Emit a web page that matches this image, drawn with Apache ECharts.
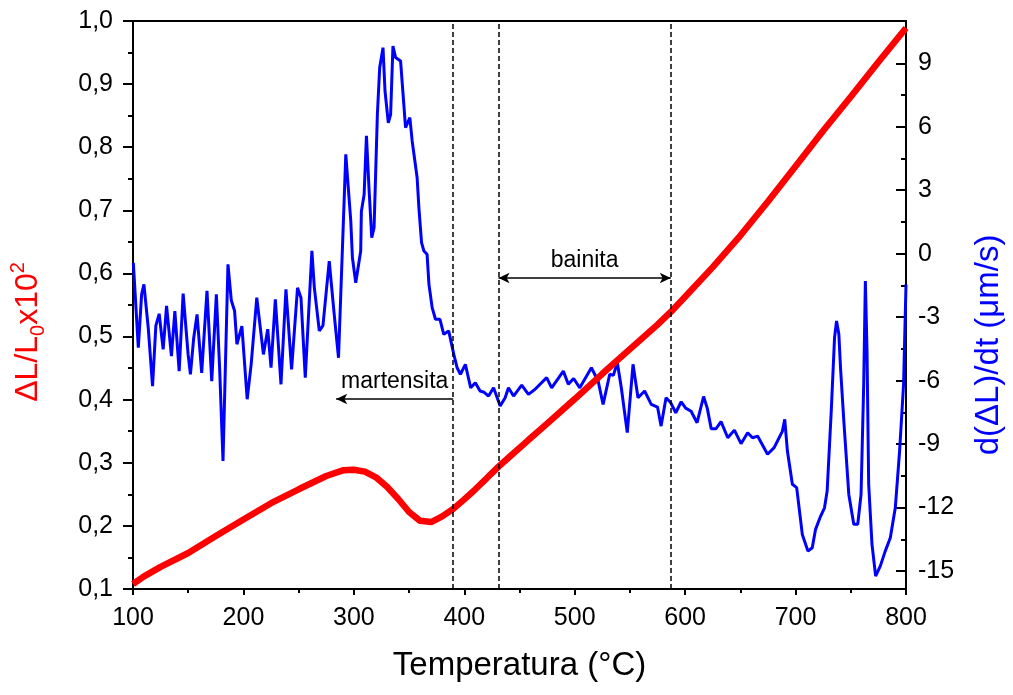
<!DOCTYPE html>
<html>
<head>
<meta charset="utf-8">
<script src="https://cdn.jsdelivr.net/npm/echarts@6/dist/echarts.min.js"></script>
<style>
  html, body { margin: 0; padding: 0; background: #fff; }
  #chart { width: 1013px; height: 695px; }
</style>
</head>
<body>
<div id="chart"></div>
<script>
// dilatação (ΔL/L0 x10^2), eixo esquerdo
const redT = [100, 110, 125, 150, 175, 200, 225, 250, 275, 290, 300, 310, 320, 330, 340, 350, 360, 370, 380, 390,
  400, 410, 420, 431, 440, 458, 475, 500, 525, 539, 550, 575, 587, 600, 625, 650, 675, 700, 725, 750, 775, 800];
const redV = [0.108, 0.120, 0.135, 0.157, 0.184, 0.210, 0.236, 0.258, 0.279, 0.288, 0.289, 0.286, 0.277, 0.262, 0.243,
  0.222, 0.208, 0.206, 0.215, 0.227, 0.242, 0.258, 0.275, 0.294, 0.308, 0.336, 0.362, 0.401, 0.441, 0.463, 0.480,
  0.519, 0.539, 0.563, 0.610, 0.660, 0.714, 0.770, 0.826, 0.880, 0.935, 0.989];

// derivada d(ΔL)/dt (µm/s), eixo direito
const blueT = [100.3, 104.8, 107.8, 109.9, 113.8, 117.7, 120.7, 123.7, 127.3, 130.4, 134.8, 137.9, 141.8, 145.4, 149.9,
  152.0, 155.0, 158.0, 162.2, 167.0, 171.3, 175.5, 178.5, 181.5, 186.0, 189.0, 192.0, 194.1, 198.6, 203.4, 207.0,
  212.1, 218.1, 222.0, 225.0, 228.9, 234.0, 238.5, 243.6, 249.0, 252.1, 256.0, 262.0, 264.2, 268.7, 272.0, 277.7,
  282.2, 286.1, 292.7, 297.2, 298.7, 301.7, 306.2, 306.8, 309.3, 311.4, 313.8, 316.2, 318.3, 321.3, 323.4, 326.4,
  328.2, 331.2, 333.3, 335.4, 337.8, 342.3, 346.8, 350.7, 352.8, 357.3, 358.9, 361.3, 363.4, 366.3, 368.0, 370.9,
  373.9, 378.0, 381.4, 385.9, 390.5, 393.5, 396.5, 401.0, 403.0, 405.8, 410.0, 414.3, 418.0, 422.0, 426.5, 432.5,
  437.0, 440.0, 444.6, 452.0, 458.1, 464.1, 474.6, 479.1, 489.7, 494.2, 499.0, 504.6, 515.1, 521.2, 525.7, 531.7,
  535.0, 538.6, 542.2, 547.6, 552.8, 557.3, 563.3, 569.3, 575.0, 578.2, 582.7, 587.0, 591.5, 596.4, 600.5, 605.4,
  610.8, 616.7, 620.0, 623.6, 628.0, 632.5, 638.6, 644.6, 650.6, 656.6, 661.0, 665.6, 674.6, 680.6, 685.1, 688.0,
  690.2, 692.6, 697.1, 701.0, 706.1, 711.2, 715.1, 718.1, 722.1, 726.2, 728.6, 732.3, 735.3, 737.1, 739.2, 740.7,
  743.7, 748.2, 752.7, 756.3, 759.3, 761.7, 763.2, 764.7, 766.2, 769.2, 772.5, 776.7, 781.2, 785.8, 790.3, 794.2,
  797.8, 800.0];
const blueV = [-0.43, -4.44, -1.92, -1.45, -3.5, -6.26, -3.4, -2.84, -4.52, -2.47, -4.84, -2.71, -5.55, -1.89, -4.76,
  -5.70, -3.97, -2.87, -5.63, -1.76, -6.02, -1.92, -5.5, -9.8, -0.50, -2.2, -2.71, -4.28, -3.42, -6.88, -5.23,
  -2.08, -4.76, -3.57, -5.39, -2.16, -6.18, -1.68, -5.47, -1.61, -2.08, -5.86, 0.13, -1.6, -3.65, -3.4, -0.35,
  -2.87, -4.92, 4.70, 1.55, -0.19, -1.37, 0.13, 2.0, 2.8, 5.57, 3.0, 0.76, 1.23, 6.59, 8.8, 9.74,
  7.69, 6.19, 6.59, 9.82, 9.27, 9.11, 5.96, 6.43, 5.33, 3.59, 2.17, 0.52, 0.13, -0.03, -1.45, -2.55,
  -3.10, -3.1, -3.81, -3.65, -4.76, -5.39, -5.70, -5.23, -5.7, -6.34, -6.1, -6.49, -6.55, -6.73, -6.34, -7.20,
  -6.81, -6.34, -6.73, -6.21, -6.65, -6.41, -5.86, -6.34, -5.55, -6.17, -5.9, -6.34, -5.39, -6.02, -7.12, -5.70,
  -5.75, -5.15, -6.34, -8.46, -5.23, -6.81, -6.49, -7.12, -7.25, -8.15, -6.81, -7.05, -7.52, -7.0, -7.3, -7.45,
  -7.99, -6.75, -7.3, -8.27, -8.27, -7.94, -8.70, -8.34, -8.98, -8.46, -8.7, -8.62, -9.48, -9.17, -8.70, -8.4,
  -7.83, -9.33, -10.90, -11.06, -13.27, -14.06, -13.90, -13.03, -12.48, -12.01, -11.22, -7.44, -3.97, -3.18, -3.81, -5.39,
  -7.91, -11.38, -12.79, -12.79, -11.38, -6.17, -1.29, -4.60, -10.90, -13.74, -15.24, -14.77, -14.06, -13.43, -12.01, -9.33,
  -6.17, -1.45];

// linhas tracejadas das transformações (°C)
const limites = [390, 431, 587];
// setas: martensita (para a esquerda), bainita (dupla)
const martensita = { de: 390, ate: 284, nivel: -6.87 };
const bainita = { de: 431, ate: 587, nivel: -1.15 };

const rightMajor = [-15, -12, -9, -6, -3, 0, 3, 6, 9];
const rightMinor = [-13.5, -10.5, -7.5, -4.5, -1.5, 1.5, 4.5, 7.5, 10.5];

const FONT = 'Liberation Sans';
const redData = redT.map((t, i) => [t, redV[i]]);
const blueData = blueT.map((t, i) => [t, blueV[i]]);

const chart = echarts.init(document.getElementById('chart'));

const axisLineStyle = { color: '#000', width: 2 };

chart.setOption({
  animation: false,
  textStyle: { fontFamily: FONT },
  grid: { left: 133, right: 104, top: 21, bottom: 106, show: true, borderColor: '#000', borderWidth: 2 },
  xAxis: {
    type: 'value', min: 100, max: 800, interval: 100,
    axisLine: { onZero: false, lineStyle: axisLineStyle },
    axisTick: { length: 6, lineStyle: { width: 2 } },
    minorTick: { show: true, splitNumber: 2, length: 4, lineStyle: { color: '#000', width: 2 } },
    splitLine: { show: false },
    axisLabel: { color: '#000', fontSize: 25, margin: 17, fontFamily: FONT },
    name: 'Temperatura (°C)', nameLocation: 'middle', nameGap: 60,
    nameTextStyle: { color: '#000', fontSize: 33, fontFamily: FONT }
  },
  yAxis: [
    {
      type: 'value', position: 'left', min: 0.1, max: 1.0, interval: 0.1,
      axisLine: { show: true, onZero: false, lineStyle: axisLineStyle },
      axisTick: { show: true, length: 10, lineStyle: { width: 2 } },
      minorTick: { show: true, splitNumber: 2, length: 5, lineStyle: { color: '#000', width: 2 } },
      splitLine: { show: false },
      axisLabel: { color: '#000', fontSize: 25, margin: 20, fontFamily: FONT,
        formatter: v => v.toFixed(1).replace('.', ',') },
      name: '{t|ΔL/L}{s|0}{t|x10}{p|2}', nameLocation: 'middle', nameRotate: 90, nameGap: 85,
      nameTextStyle: {
        color: '#ff0000', fontSize: 32, fontFamily: FONT, padding: [0, 54, 0, 0],
        rich: {
          t: { fontSize: 32, color: '#ff0000', fontFamily: FONT, lineHeight: 40 },
          s: { fontSize: 20, color: '#ff0000', fontFamily: FONT, verticalAlign: 'bottom', lineHeight: 20 },
          p: { fontSize: 20, color: '#ff0000', fontFamily: FONT, verticalAlign: 'top', lineHeight: 20 }
        }
      }
    },
    {
      type: 'value', position: 'right', min: -15.85, max: 11,
      axisLine: { show: true, onZero: false, lineStyle: axisLineStyle },
      axisTick: { show: true, inside: true, length: 10, lineStyle: { width: 2 }, customValues: rightMajor },
      splitLine: { show: false },
      axisLabel: { color: '#000', fontSize: 25, margin: 12, fontFamily: FONT, customValues: rightMajor },
      name: 'd(ΔL)/dt (μm/s)', nameLocation: 'middle', nameRotate: 90, nameGap: 66,
      nameTextStyle: { color: '#0000ff', fontSize: 33, fontFamily: FONT, padding: [0, 80, 0, 0] }
    },
    {
      type: 'value', position: 'right', min: -15.85, max: 11,
      axisLine: { show: false, onZero: false },
      axisTick: { show: true, inside: true, length: 5, lineStyle: { color: '#000', width: 2 }, customValues: rightMinor },
      axisLabel: { show: false },
      splitLine: { show: false }
    }
  ],
  series: [
    {
      type: 'line', yAxisIndex: 1, data: blueData, showSymbol: false, z: 2,
      lineStyle: { color: '#0000ff', width: 3 },
      markLine: {
        silent: true, symbol: ['none', 'none'], z: 5,
        lineStyle: { color: '#000', width: 1.5, type: [5, 3] },
        label: { show: false },
        data: limites.map(t => ({ xAxis: t }))
      }
    },
    {
      type: 'line', yAxisIndex: 0, data: redData, showSymbol: false, z: 3,
      lineStyle: { color: '#ff0000', width: 6.5 }
    },
    {
      type: 'line', yAxisIndex: 1, data: [], z: 4,
      markLine: {
        silent: true, z: 6,
        lineStyle: { color: '#000', width: 1.5, type: 'solid' },
        label: { show: true, position: 'middle', color: '#000', fontSize: 23, fontFamily: FONT, distance: 6 },
        data: [
          [
            { coord: [bainita.de, bainita.nivel], symbol: 'arrow', symbolSize: [8, 11] },
            { coord: [bainita.ate, bainita.nivel], symbol: 'arrow', symbolSize: [8, 11],
              label: { formatter: 'bainita' } }
          ],
          [
            { coord: [martensita.de, martensita.nivel], symbol: 'none' },
            { coord: [martensita.ate, martensita.nivel], symbol: 'arrow', symbolSize: [8, 11],
              label: { formatter: 'martensita' } }
          ]
        ]
      }
    }
  ]
});
</script>
</body>
</html>
